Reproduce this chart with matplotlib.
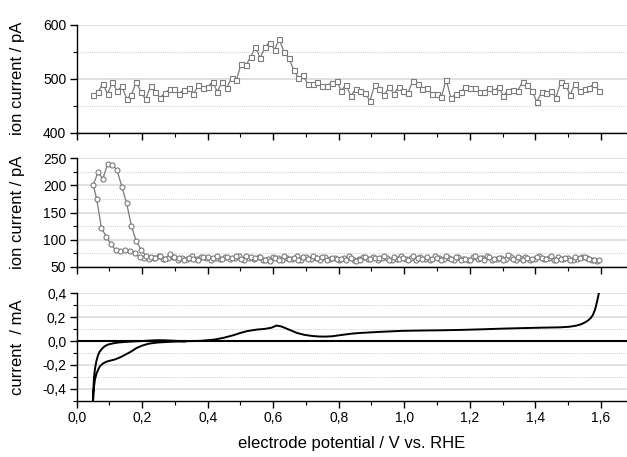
import matplotlib
matplotlib.use("Agg")
import matplotlib.pyplot as plt
from matplotlib.ticker import MultipleLocator, FuncFormatter
import numpy as np

plt.rcParams['font.family'] = ['Liberation Sans', 'DejaVu Sans']

# Top panel: ion current (squares), one point per sample along the sweep
top_x = np.linspace(0.0507, 1.594, 107)
top_y = [470, 475, 491, 472, 494, 477, 486, 463, 470, 494,
         475, 462, 486, 475, 465, 473, 481, 481, 472, 480,
         483, 471, 488, 483, 485, 494, 476, 494, 483, 502,
         497, 528, 525, 540, 559, 538, 559, 567, 554, 573,
         549, 538, 517, 502, 506, 490, 491, 493, 486, 487,
         492, 496,
         478, 489, 468, 481, 478, 473, 459, 488, 481, 469,
         485, 472, 484, 478, 474, 496, 491, 481, 483, 472,
         472, 467, 498, 464, 472, 475, 484, 483, 483, 475,
         475, 483, 477, 485, 468, 478, 480, 478, 494, 489,
         478, 457, 475, 473, 478, 465, 493, 489, 470, 491,
         477, 481, 483, 491, 478]

# Middle panel: ion current (circles), cathodic sweep then anodic sweep
mid_cath_x = np.linspace(1.587, 0.061, 106)
mid_cath_y = [61, 63, 66, 69, 64, 62, 67, 65, 68, 63,
              66, 64, 70, 65, 62, 68, 66, 63, 69, 64,
              67, 65, 62, 70, 66, 64, 68, 62, 65, 69,
              63, 67, 64, 66, 71, 63, 65, 68, 62, 66,
              64, 70, 65, 63, 67, 66, 62, 69, 64, 68,
              65, 63, 70, 66, 62, 67, 65, 69, 63, 66,
              64, 68, 62, 70, 65, 67, 63, 66, 69, 64,
              62, 68, 65, 67, 63, 70, 66, 64, 69, 65,
              67, 63, 66, 68, 64, 70, 65, 67, 63, 69,
              66, 64, 70, 67, 65, 66,
              68, 76, 79, 81, 79, 81, 92, 106, 122, 175]
mid_anod_x = np.linspace(0.0507, 1.594, 107)
mid_anod_y = [201, 225, 212, 240, 238, 228, 197, 167, 125, 98, 82, 71,
              68, 66, 70, 65, 73, 68, 66, 63, 67, 64,
              62, 69, 68, 66, 70, 64, 69, 67, 71, 65,
              70, 68, 66, 69, 63, 61, 66, 62, 70, 64,
              66, 62, 68, 65, 70, 66, 69, 62, 67, 64,
              65, 63, 66, 61, 62, 68, 64, 67, 66, 70,
              63, 68, 65, 67, 63, 70, 66, 64, 68, 65,
              66, 63, 71, 65, 68, 62, 65, 63, 70, 66,
              62, 69, 64, 66, 63, 72, 65, 68, 63, 66,
              64, 69, 66, 64, 70, 62, 65, 67, 63, 68,
              66, 69, 64, 63, 62]

# Bottom panel: cyclic voltammogram
cv_x = [0.33, 0.30, 0.27, 0.25, 0.23, 0.20, 0.17, 0.145, 0.125, 0.11,
        0.095, 0.085, 0.077, 0.07, 0.065, 0.06, 0.056, 0.053, 0.051, 0.050,
        0.051, 0.053, 0.056, 0.061, 0.067, 0.073, 0.082, 0.092, 0.104, 0.116,
        0.134, 0.15, 0.165, 0.183, 0.2, 0.22, 0.245, 0.28, 0.33, 0.38,
        0.42, 0.45, 0.48, 0.5, 0.52, 0.55, 0.575, 0.595, 0.61, 0.625,
        0.64, 0.655, 0.672, 0.695, 0.72, 0.74, 0.757, 0.78, 0.806, 0.84,
        0.867, 0.92, 0.99, 1.05, 1.11, 1.17, 1.234, 1.3, 1.356, 1.42,
        1.478, 1.505, 1.527, 1.541, 1.551, 1.561, 1.57, 1.576, 1.582, 1.585,
        1.588, 1.591, 1.594]
cv_y = [-0.003, 0.002, 0.006, 0.007, 0.005, 0.0, -0.004, -0.008, -0.013, -0.02,
        -0.03, -0.045, -0.065, -0.09, -0.12, -0.17, -0.23, -0.3, -0.4, -0.5,
        -0.44, -0.38, -0.32, -0.27, -0.23, -0.205, -0.185, -0.172, -0.163, -0.155,
        -0.135, -0.112, -0.09, -0.058, -0.038, -0.022, -0.013, -0.007, -0.002, 0.002,
        0.012, 0.028, 0.05, 0.068, 0.083, 0.096, 0.102, 0.112, 0.13, 0.122,
        0.105, 0.088, 0.068, 0.052, 0.042, 0.038, 0.037, 0.04, 0.05, 0.062,
        0.068, 0.076, 0.085, 0.088, 0.09, 0.093, 0.098, 0.104, 0.108, 0.112,
        0.115, 0.12, 0.13, 0.142, 0.155, 0.172, 0.195, 0.22, 0.26, 0.29,
        0.325, 0.36, 0.4]

grey = '#7a7a7a'


def comma(v, pos):
    return ('%.1f' % v).replace('.', ',')


def style_axes(ax, ymin, ymax, major, minor):
    ax.set_xlim(0, 1.68)
    ax.set_ylim(ymin, ymax)
    ax.spines['top'].set_visible(False)
    ax.spines['right'].set_visible(False)
    ax.spines['left'].set_linewidth(1.0)
    ax.spines['bottom'].set_linewidth(1.0)
    ax.xaxis.set_major_locator(MultipleLocator(0.2))
    ax.xaxis.set_minor_locator(MultipleLocator(0.1))
    ax.yaxis.set_major_locator(MultipleLocator(major))
    ax.yaxis.set_minor_locator(MultipleLocator(minor))
    ax.tick_params(which='major', direction='out', length=5, width=1.0,
                   labelsize=10, pad=2.5)
    ax.tick_params(which='minor', direction='out', length=3, width=0.8)
    # grid lines: solid light at major, dotted at minor
    ax.grid(True, which='major', axis='y', color='#dcdcdc', linewidth=1.2, zorder=0)
    ax.grid(True, which='minor', axis='y', color='#bdbdbd', linewidth=0.6,
            linestyle=(0, (1, 1.5)), zorder=0)
    ax.set_axisbelow(True)
    ax.yaxis.set_label_coords(-0.094, 0.5)


fig = plt.figure(figsize=(6.27, 4.57), dpi=100)
left = 0.1223
width = 1.0 - left

ax1 = fig.add_axes([left, 0.7096, width, 0.2363])
ax2 = fig.add_axes([left, 0.4158, width, 0.2378])
ax3 = fig.add_axes([left, 0.1232, width, 0.2350])

style_axes(ax1, 400, 600, 100, 50)
ax1.plot(top_x, top_y, color=grey, linewidth=0.9, marker='s', markersize=3.6,
         markerfacecolor='white', markeredgecolor=grey, markeredgewidth=0.8, zorder=3)
ax1.set_ylabel('ion current / pA', fontsize=12)
ax1.tick_params(axis='x', labelbottom=False)

style_axes(ax2, 50, 250, 50, 25)
mid_x = list(mid_cath_x) + list(mid_anod_x)
mid_y = mid_cath_y + mid_anod_y
ax2.plot(mid_x, mid_y, color=grey, linewidth=0.9, marker='o', markersize=3.6,
         markerfacecolor='white', markeredgecolor=grey, markeredgewidth=0.8, zorder=3)
ax2.set_ylabel('ion current / pA', fontsize=12)
ax2.tick_params(axis='x', labelbottom=False)

style_axes(ax3, -0.5, 0.4, 0.2, 0.1)
ax3.axhline(0, color='black', linewidth=1.5, zorder=2)
ax3.plot(cv_x, cv_y, color='black', linewidth=1.4, zorder=3)
ax3.xaxis.set_major_formatter(FuncFormatter(comma))
ax3.yaxis.set_major_formatter(FuncFormatter(comma))
ax3.set_ylabel('current  / mA', fontsize=12)
ax3.set_xlabel('electrode potential / V vs. RHE', fontsize=12, labelpad=8)

plt.savefig('out.png', dpi=100)
